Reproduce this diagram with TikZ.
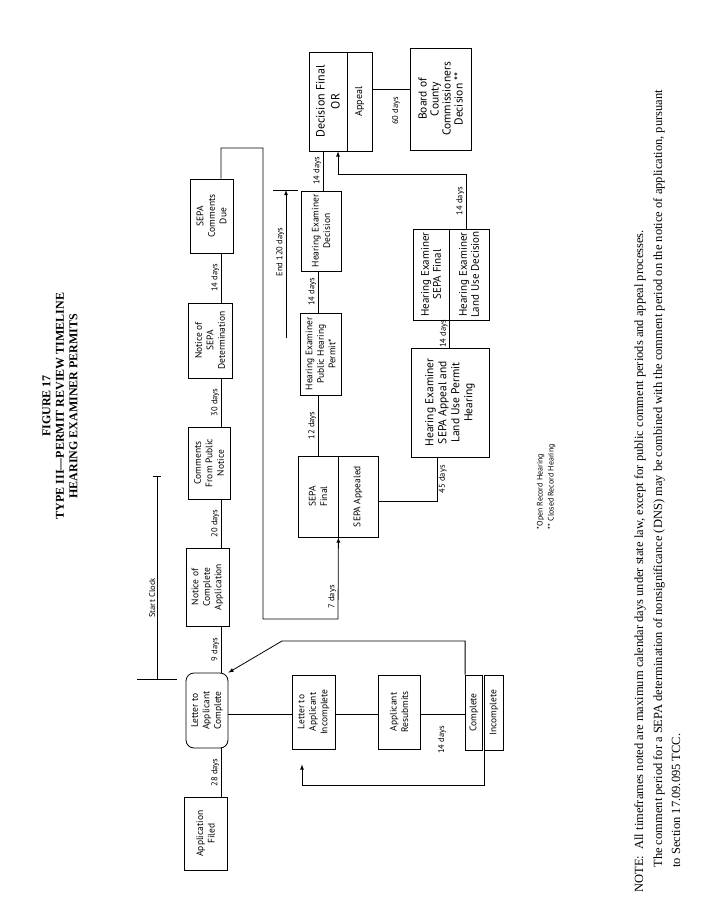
\documentclass[tikz,border=0pt]{standalone}
\usepackage{fontspec}
\setmainfont{Liberation Serif}
\setsansfont{PT Sans}
\usetikzlibrary{calc}

\begin{document}
\begin{tikzpicture}[x=1pt, y=-1pt, line width=0.8pt, >=latex,
	every node/.append style={rotate=90},
	box/.style={draw, align=center, inner sep=1pt, font=\sffamily\fontsize{9.5}{11.5}\selectfont},
	bigbox/.style={box, font=\sffamily\fontsize{11.5}{13}\selectfont},
	days/.style={inner sep=1.5pt, font=\sffamily\fontsize{8.5}{10}\selectfont},
	note/.style={inner sep=0pt, anchor=base west, font=\fontsize{12.5}{15}\selectfont}]
	
	\useasboundingbox (0,0) rectangle (706,912);
	
	% Title
	\node[font=\bfseries\fontsize{12}{13.5}\selectfont, align=center] (title) at (60,406)
		{FIGURE 17\\TYPE III—PERMIT REVIEW TIMELINE\\HEARING EXAMINER PERMITS};
	
	% Helper coordinates for the connector lines
	\coordinate (row1) at (221,0);
	\coordinate (row2) at (0,714);
	\coordinate (row3) at (0,89);
	\coordinate (col2) at (318,0);
	\coordinate (col3) at (323,0);
	
	% Main timeline
	\node[box, minimum width=73, minimum height=43] (filed) at (205.5,833.5) {Application\\Filed};
	\node[box, rounded corners=8pt, minimum width=75, minimum height=42] (lcomp) at (207,710.5) {Letter to\\Applicant\\Complete};
	\node[box, minimum width=78, minimum height=43] (ncomp) at (207.5,587) {Notice of\\Complete\\Application};
	\node[box, minimum width=72, minimum height=42] (cpub) at (209,463) {Comments\\From Public\\Notice};
	\node[box, minimum width=75, minimum height=44] (nsepa) at (210,340.5) {Notice of\\SEPA\\Determination};
	\node[box, minimum width=74, minimum height=43] (sdue) at (211.5,216) {SEPA\\Comments\\Due};
	
	\draw (filed.east -| row1) -- node[days, anchor=south]{28 days} (lcomp.west -| row1);
	\draw (lcomp.east -| row1) -- node[days, anchor=south]{9 days} (ncomp.west -| row1);
	\draw (ncomp.east -| row1) -- node[days, anchor=south]{20 days} (cpub.west -| row1);
	\draw (cpub.east -| row1) -- node[days, anchor=south]{30 days} (nsepa.west -| row1);
	\draw (nsepa.east -| row1) -- node[days, anchor=south]{14 days} (sdue.west -| row1);
	
	% Start clock
	\coordinate (clockA) at (157,679);
	\coordinate (clockB) at (157,476);
	\draw (clockA) -- node[days, pos=0.4, anchor=south]{Start Clock} (clockB);
	\draw ($(clockA)+(-20,0)$) -- ($(clockA)+(20,0)$);
	\draw ($(clockB)+(-4,0)$) -- ($(clockB)+(4,0)$);
	
	% Incomplete application loop
	\node[box, minimum width=74, minimum height=43] (linc) at (313.5,712) {Letter to\\Applicant\\Incomplete};
	\node[box, minimum width=74, minimum height=42] (resub) at (399,712) {Applicant\\Resubmits};
	\node[box, minimum width=75, minimum height=17] (compl) at (474,712.5) {Complete};
	\node[box, minimum width=75, minimum height=18.5] (incompl) at (494,712.5) {Incomplete};
	
	\draw (lcomp.south |- row2) -- (linc.north |- row2);
	\draw (linc.south |- row2) -- (resub.north |- row2);
	\draw (resub.south |- row2) -- (compl.north |- row2);
	\node[days, anchor=east] (resubdays) at (442,724) {14 days};
	
	\coordinate (ret1) at (282,641);
	\coordinate (ret2) at (302,785);
	\draw[->] (compl.north east) |- (ret1) -- (lcomp.south east);
	\draw[->, shorten >=15pt] (incompl.north west) |- (ret2) -- (linc.west -| ret2);
	
	% SEPA branch
	\node[box, minimum width=81, minimum height=40] (sepaf) at (318,496.5) {SEPA\\Final};
	\node[box, minimum width=81, minimum height=40] (sepaa) at (358,496.5) {SEPA Appealed};
	\coordinate (sp1) at (263,148);
	\coordinate (sp2) at (338,619);
	\draw[->] (sdue.east -| row1) |- (sp1) |- (sp2) -- node[days, pos=0.27, anchor=south]{7 days} (sepaf.south west);
	
	% Hearing examiner track
	\node[box, minimum width=82, minimum height=41] (phear) at (320.5,354) {Hearing Examiner\\Public Hearing\\Permit*};
	\node[box, minimum width=80, minimum height=40] (hdec) at (321,231) {Hearing Examiner\\Decision};
	\node[bigbox, font=\sffamily\fontsize{12}{15}\selectfont, minimum width=99, minimum height=38] (dfinal) at (328,101.5) {Decision Final\\OR};
	\node[box, font=\sffamily\fontsize{10}{12}\selectfont, minimum width=99, minimum height=25] (appeal) at (359.5,101.5) {Appeal};
	\node[bigbox, font=\sffamily\fontsize{11.5}{12}\selectfont, minimum width=102, minimum height=61] (board) at (440.5,99) {Board of\\County\\Commissioners\\Decision **};
	
	\draw (sepaf.east -| col2) -- node[days, anchor=south]{12 days} (phear.west -| col2);
	\draw (phear.east -| col2) -- node[days, anchor=south]{14 days} (hdec.west -| col2);
	\draw (hdec.east -| col3) -- node[days, anchor=south]{14 days} (dfinal.west -| col3);
	\draw (appeal.south |- row3) -- (board.north |- row3);
	\node[days, anchor=east] (boarddays) at (396,95) {60 days};
	
	% End clock
	\coordinate (endA) at (286,338);
	\coordinate (endB) at (286,190);
	\draw[->] (endA) -- node[days, pos=0.58, anchor=south]{End 120 days} (endB);
	\draw ($(endB)+(-13,0)$) -- ($(endB)+(12,0)$);
	
	% SEPA appeal track
	\node[bigbox, minimum width=109, minimum height=78] (happ) at (450,402.5) {Hearing Examiner\\SEPA Appeal and\\Land Use Permit\\Hearing};
	\node[bigbox, font=\sffamily\fontsize{11}{12}\selectfont, minimum width=91, minimum height=36] (hfin) at (431,274.5) {Hearing Examiner\\SEPA Final};
	\node[bigbox, font=\sffamily\fontsize{11}{12}\selectfont, minimum width=91, minimum height=40] (luse) at (469,274.5) {Hearing Examiner\\Land Use Decision};
	
	\coordinate (c45) at (437,501);
	\coordinate (lu1) at (466,0);
	\coordinate (lu2) at (338,174);
	\draw (sepaa.south |- c45) -- (c45) -- node[days, anchor=north]{45 days} (happ.west -| c45);
	\draw (happ.east -| hfin.south west) -- node[days, anchor=south]{14 days} (hfin.south west);
	\draw[->] (luse.east -| lu1) |- node[days, pos=0.25, anchor=south]{14 days} (lu2) -- (dfinal.west -| lu2);
	
	% Key
	\node[font=\sffamily\fontsize{8}{11}\selectfont, align=left, anchor=west] (key) at (546,533) {*Open Record Hearing\\** Closed Record Hearing};
	
	% Note
	\node[note] (note1) at (643,893) {NOTE:\ \ All timeframes noted are maximum calendar days under state law, except for public comment periods and appeal processes.};
	\node[note] (note2) at (662,868) {The comment period for a SEPA determination of nonsignificance (DNS) may be combined with the comment period on the notice of application, pursuant};
	\node[note] (note3) at (680,868) {to Section 17.09.095 TCC.};
\end{tikzpicture}
\end{document}
